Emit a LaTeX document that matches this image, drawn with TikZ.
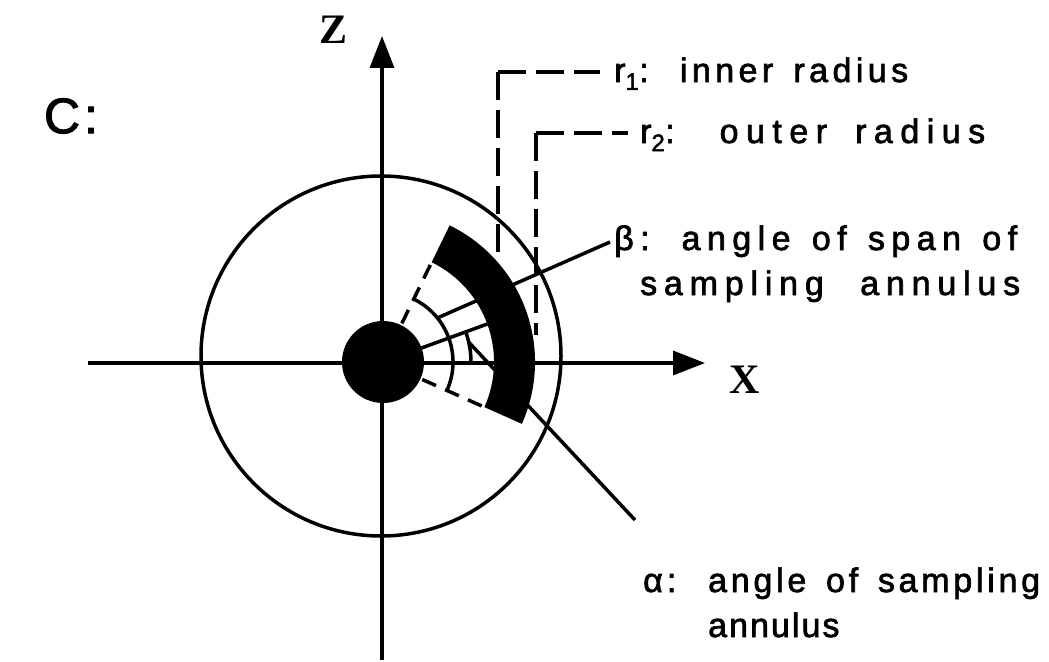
\documentclass[tikz,border=0pt]{standalone}
\usepackage{fontspec}
\setmainfont{Liberation Sans}
\newfontfamily\lblfont[FakeBold=2]{Liberation Sans}
\newfontfamily\axfont{Liberation Serif}
\newcommand{\ls}[1]{\addfontfeatures{LetterSpace=#1}}
\usetikzlibrary{arrows.meta,calc}
\begin{document}
\begin{tikzpicture}[x=1pt,y=1pt,
  axisline/.style={line width=3.5pt,-{Triangle[length=32pt,width=24pt]}},
  solidline/.style={line width=3.5pt},
  leaderdash/.style={line width=3.5pt,dash pattern=on 28pt off 10pt},
  raddash/.style={line width=3.5pt,dash pattern=on 15pt off 10pt},
  lbl/.style={font=\lblfont\fontsize{34}{40}\selectfont,inner sep=0pt,anchor=base west},
  axlbl/.style={font=\axfont\bfseries\fontsize{42}{46}\selectfont,inner sep=0pt}]
\useasboundingbox (0,0) rectangle (1049,-661);
\coordinate (O) at (383,-362);
% axes
\coordinate (zb) at (382,-660);
\coordinate (zt) at (382,-36);
\coordinate (xl) at (88,-363);
\coordinate (xr) at (705,-363);
\draw[axisline] (zb) -- (zt);
\draw[axisline] (xl) -- (xr);
% big circle
\node[circle,draw,line width=3.5pt,minimum size=360pt,inner sep=0pt] (ring) at (381,-356) {};
% central disk
\node[circle,fill,minimum size=82pt,inner sep=0pt] (disk) at (O) {};
% sampling annulus
\fill ($(O)+(-24:111)$) arc[start angle=-24,end angle=64,radius=111]
  -- ($(O)+(64:152)$) arc[start angle=64,end angle=-24,radius=152] -- cycle;
% radial dashed lines
\coordinate (u1) at ($(O)+(64:43)$);
\coordinate (u2) at ($(O)+(64:111)$);
\coordinate (l1) at ($(O)+(-24:43)$);
\coordinate (l2) at ($(O)+(-24:111)$);
\draw[raddash] (u1) -- (u2);
\draw[raddash] (l1) -- (l2);
% centre line of annulus
\coordinate (c1) at ($(O)+(20:41)$);
\coordinate (c2) at ($(O)+(20:111)$);
\draw[solidline] (c1) -- (c2);
% angle arcs
\coordinate (ba) at ($(O)+(-24:70)$);
\draw[solidline] (ba) arc[start angle=-24,end angle=64,radius=70];
\coordinate (aa) at ($(O)+(0:88)$);
\draw[solidline] (aa) arc[start angle=0,end angle=20,radius=88];
% leaders
\coordinate (bs) at ($(O)+(39:70)$);
\coordinate (be) at (610,-242);
\draw[solidline] (bs) -- (be);
\coordinate (as) at ($(O)+(13:88)$);
\coordinate (ae) at (635,-520);
\draw[solidline] (as) -- (ae);
\coordinate (r1c) at (498,-72);
\coordinate (r1d) at (498,-255);
\coordinate (r1e) at (600,-72);
\draw[leaderdash] (r1c) -- (r1d);
\draw[leaderdash] (r1c) -- (r1e);
\coordinate (r2c) at (536,-133);
\coordinate (r2d) at (536,-335);
\coordinate (r2e) at (628,-133);
\draw[leaderdash] (r2c) -- (r2d);
\draw[leaderdash] (r2c) -- (r2e);
% labels
\node[font=\lblfont\fontsize{50}{54}\selectfont,inner sep=0pt] (C) at (71,-116) {\ls{8}C:};
\node[axlbl] (Z) at (334,-30) {Z};
\node[axlbl] (X) at (745,-380) {X};
\node[lbl] (r1) at (614,-82) {\ls{13}\makebox[294pt][s]{r\textsubscript{1}: inner radius}};
\node[lbl] (r2) at (640,-143) {\ls{22}\makebox[345pt][s]{r\textsubscript{2}: outer radius}};
\node[lbl] (b1) at (614,-250) {\ls{19}\makebox[403pt][s]{β: angle of span of}};
\node[lbl] (b2) at (640,-295) {\ls{20}\makebox[380pt][s]{sampling annulus}};
\node[lbl] (a0) at (643,-592) {\ls{12}α:};
\node[lbl] (a1) at (708,-592) {\ls{11}\makebox[332pt][s]{angle of sampling}};
\node[lbl] (a2) at (708,-637) {\ls{6}annulus};
\end{tikzpicture}
\end{document}
